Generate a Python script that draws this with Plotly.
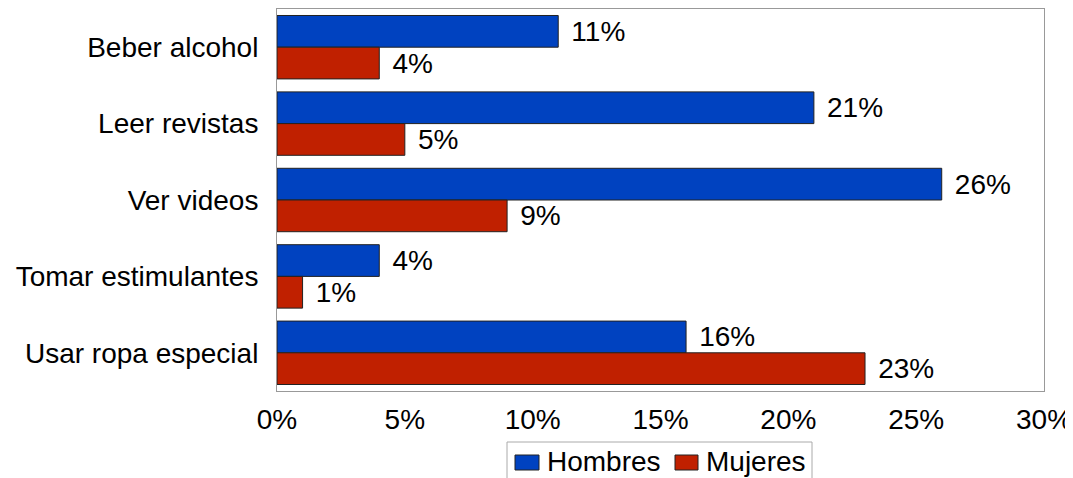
import plotly.graph_objects as go

categories = ["Beber alcohol", "Leer revistas", "Ver videos", "Tomar estimulantes", "Usar ropa especial"]
hombres = [11, 21, 26, 4, 16]
mujeres = [4, 5, 9, 1, 23]
tick_vals = [0, 5, 10, 15, 20, 25, 30]
tick_text = ["0%", "5%", "10%", "15%", "20%", "25%", "30%"]
series_names = ["Hombres", "Mujeres"]
series_colors = ["#0042C0", "#C02000"]

font_family = "Liberation Sans, Arial, sans-serif"
FS = 28

# plot area in page pixels (page has an 8px body offset)
PX0, PX1, PY0, PY1 = 277, 1044, 9, 391


def px_x(px):
    return (px - PX0) / (PX1 - PX0)


def px_y(py):
    return (PY1 - py) / (PY1 - PY0)


def labels(vals):
    return ["\u00a0\u200a" + str(v) + "%" for v in vals]


fig = go.Figure()
for name, vals, col in zip(series_names, [hombres, mujeres], series_colors):
    fig.add_trace(go.Bar(
        y=categories, x=vals, orientation="h", name=name,
        marker=dict(color=col, line=dict(color="#222222", width=1)),
        text=labels(vals), texttemplate="%{text}", textposition="outside",
        constraintext="none",
        textfont=dict(size=FS, color="#000000", family=font_family),
        cliponaxis=False, showlegend=False,
    ))

# Legend drawn as shapes/annotations (box is cut by the bottom edge as in the reference)
shapes = [dict(type="rect", xref="paper", yref="paper",
               x0=px_x(507), x1=px_x(812), y0=px_y(490), y1=px_y(442),
               line=dict(color="#AAAAAA", width=1), fillcolor="white", layer="below")]
annotations = []
legend_items = [(515, 539, 545), (675, 698, 704)]
for (sx0, sx1, tx), name, col in zip(legend_items, series_names, series_colors):
    shapes.append(dict(type="rect", xref="paper", yref="paper",
                       x0=px_x(sx0), x1=px_x(sx1), y0=px_y(470), y1=px_y(455),
                       line=dict(color="#222222", width=1), fillcolor=col))
    annotations.append(dict(xref="paper", yref="paper", x=px_x(tx), y=px_y(462),
                            xanchor="left", yanchor="middle", showarrow=False,
                            text=name, font=dict(size=FS, family=font_family, color="#000000")))

W, H = 1073, 478
OFF = 8
fig.update_layout(
    width=W, height=H,
    margin=dict(l=PX0 - OFF, r=W + OFF - PX1, t=PY0 - OFF, b=H + OFF - PY1, pad=0),
    paper_bgcolor="white", plot_bgcolor="white",
    barmode="group", bargap=0.17, bargroupgap=0,
    font=dict(family=font_family, size=FS, color="#000000"),
    showlegend=False,
    shapes=shapes, annotations=annotations,
    xaxis=dict(
        range=[0, 30], tickvals=tick_vals, ticktext=tick_text,
        showgrid=False, zeroline=False, automargin=False,
        showline=True, linecolor="#999999", linewidth=1, mirror=True,
        ticks="outside", ticklen=3, tickcolor="rgba(0,0,0,0)",
        tickfont=dict(size=FS),
    ),
    yaxis=dict(
        autorange="reversed", showgrid=False, zeroline=False, automargin=False,
        showline=True, linecolor="#999999", linewidth=1, mirror=True,
        ticks="outside", ticklen=12, tickcolor="rgba(0,0,0,0)",
        tickfont=dict(size=FS),
    ),
)

fig.write_html("out.html")
